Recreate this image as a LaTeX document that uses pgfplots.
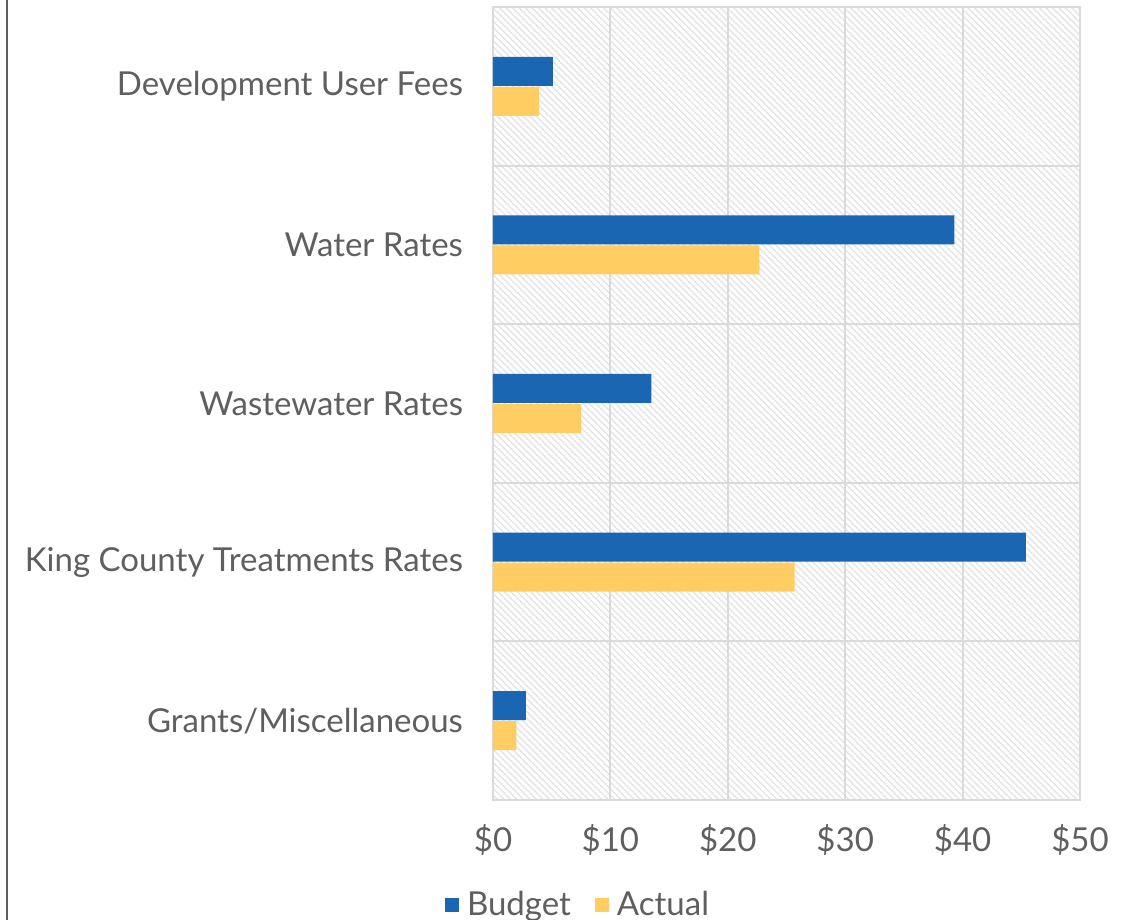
\documentclass[border=0pt]{standalone}
\usepackage{pgfplots}
\pgfplotsset{compat=1.18}
\usepackage{fontspec}
\setmainfont{Lato}
\usetikzlibrary{patterns.meta}
\definecolor{budget}{HTML}{1A66B2}
\definecolor{actual}{HTML}{FFCD62}
\definecolor{txt}{HTML}{5F5F5F}
\definecolor{gridc}{HTML}{DADADA}
\definecolor{hatch}{HTML}{E4E4E4}
\begin{document}
\begin{tikzpicture}
\useasboundingbox (0pt,0pt) rectangle (567.5pt,460pt);
\clip (0pt,0pt) rectangle (567.5pt,460pt);
\draw[txt, line width=1pt] (3.5pt,0pt) -- (3.5pt,460pt);
\begin{axis}[at={(246.5pt,60pt)}, anchor=south west,
    scale only axis, width=293.5pt, height=396.5pt,
    xbar, bar width=14.5pt,
    xmin=0, xmax=50, ymin=-0.5, ymax=4.5,
    ytick={0,...,4},
    yticklabels={Grants/Miscellaneous, King County Treatments Rates, Wastewater Rates, Water Rates, Development User Fees},
    minor ytick={-0.5,0.5,...,4.5},
    yminorgrids, xmajorgrids,
    xtick={0,10,...,50},
    xticklabels={\$0,\$10,\$20,\$30,\$40,\$50},
    major tick length=0pt, minor tick length=0pt,
    grid style={gridc, line width=1pt},
    minor grid style={gridc, line width=1pt},
    axis line style={gridc, line width=1pt},
    axis background/.style={pattern={Lines[angle=-45,distance=2.3pt,line width=0.7pt]}, pattern color=hatch},
    tick label style={txt, font=\fontsize{16.5}{19}\selectfont},
    xticklabel style={yshift=-8.5pt},
    yticklabel style={xshift=-11.5pt},
    legend style={at={(0.1465,-0.1325)}, anchor=center, draw=none, fill=none,
        legend columns=2, font=\fontsize{16.5}{19}\selectfont, text=txt,
        /tikz/every odd column/.append style={column sep=2pt},
        /tikz/every even column/.append style={column sep=10pt}},
    legend image code/.code={\fill[#1] (0pt,-3.5pt) rectangle (7pt,3.5pt);},
]
\addplot[fill=budget, draw=none, bar shift=7.5pt] coordinates {
    (2.8,0) (45.4,1) (13.5,2) (39.3,3) (5.1,4)
};
\addplot[fill=actual, draw=none, bar shift=-7.5pt] coordinates {
    (2.0,0) (25.7,1) (7.5,2) (22.7,3) (3.9,4)
};
\legend{Budget, Actual}
\end{axis}
\end{tikzpicture}
\end{document}
